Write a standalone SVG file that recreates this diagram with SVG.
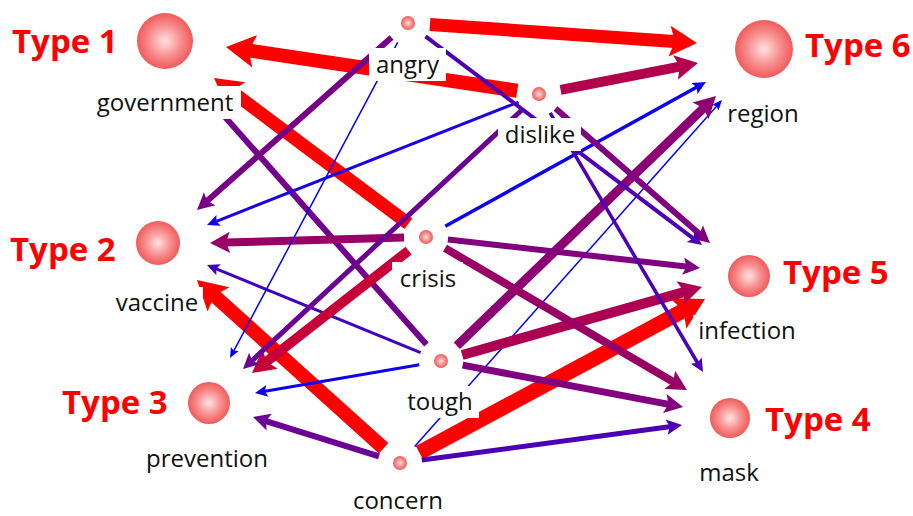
<svg xmlns="http://www.w3.org/2000/svg" xmlns:xlink="http://www.w3.org/1999/xlink" width="913" height="516" viewBox="0 0 913 516">
<style>
.e line{stroke:currentColor;fill:none}
.lbl{font-family:"Open Sans","DejaVu Sans",sans-serif;font-size:24px;fill:#111;text-anchor:middle}
.typ{font-family:"Open Sans","Liberation Sans",sans-serif;font-size:33px;font-weight:bold;fill:#ff0000}
.box{fill:#fff}
.ball{fill:url(#g)}
</style>
<defs>
<radialGradient id="g" cx="50%" cy="50%" r="50%">
<stop offset="0" stop-color="#ffe2e2"/>
<stop offset="0.55" stop-color="#f99090"/>
<stop offset="1" stop-color="#f05a5a"/>
</radialGradient>
<path id="h15" fill="currentColor" d="M0,0 L-30.5,-17.25 L-24.4,0 L-30.5,17.25Z"/>
<path id="h14" fill="currentColor" d="M0,0 L-29,-16.3 L-23.2,0 L-29,16.3Z"/>
<path id="h13" fill="currentColor" d="M0,0 L-27.5,-15.35 L-22,0 L-27.5,15.35Z"/>
<path id="h10" fill="currentColor" d="M0,0 L-23,-12.5 L-18.4,0 L-23,12.5Z"/>
<path id="h9" fill="currentColor" d="M0,0 L-21.5,-11.55 L-17.2,0 L-21.5,11.55Z"/>
<path id="h8" fill="currentColor" d="M0,0 L-20,-10.6 L-16,0 L-20,10.6Z"/>
<path id="h7" fill="currentColor" d="M0,0 L-18.5,-9.65 L-14.8,0 L-18.5,9.65Z"/>
<path id="h6" fill="currentColor" d="M0,0 L-17,-8.7 L-13.6,0 L-17,8.7Z"/>
<path id="h5" fill="currentColor" d="M0,0 L-15.5,-7.75 L-12.4,0 L-15.5,7.75Z"/>
<path id="h4" fill="currentColor" d="M0,0 L-14,-6.8 L-11.2,0 L-14,6.8Z"/>
<path id="h35" fill="currentColor" d="M0,0 L-13.25,-6.3 L-10.6,0 L-13.25,6.3Z"/>
<path id="h3" fill="currentColor" d="M0,0 L-12.5,-5.85 L-10,0 L-12.5,5.85Z"/>
<path id="hT" fill="currentColor" d="M0,0 L-10.25,-4.4 L-8.2,0 L-10.25,4.4Z"/>
</defs>
<rect width="913" height="516" fill="#fff"/>
<g id="connectors">
<!-- concern -->
<g class="e" color="#ff0000" transform="translate(197,280) rotate(-137.97)"><line x1="-251.3" y1="0" x2="-20.3" y2="0" stroke-width="14"/><use href="#h14"/></g>
<g class="e" color="#6b0094" transform="translate(253,417) rotate(-162.62)"><line x1="-132" y1="0" x2="-11.9" y2="0" stroke-width="6"/><use href="#h6"/></g>
<g class="e" color="#ff0000" transform="translate(705,299) rotate(-28.27)"><line x1="-324.3" y1="0" x2="-21.4" y2="0" stroke-width="15"/><use href="#h15"/></g>
<g class="e" color="#4d00b3" transform="translate(682,425) rotate(-7.67)"><line x1="-262.5" y1="0" x2="-10.9" y2="0" stroke-width="5"/><use href="#h5"/></g>
<g class="e" color="#0000ff" transform="translate(722,100) rotate(-48.43)"><line x1="-463.2" y1="0" x2="-7.2" y2="0" stroke-width="1.5"/><use href="#hT"/></g>
<!-- tough -->
<g class="e" color="#73008c" transform="translate(203,92) rotate(-131.5)"><line x1="-337.2" y1="0" x2="-11.9" y2="0" stroke-width="6"/><use href="#h6"/></g>
<g class="e" color="#4000bf" transform="translate(207,265) rotate(-157.69)"><line x1="-230.9" y1="0" x2="-8.8" y2="0" stroke-width="3"/><use href="#h3"/></g>
<g class="e" color="#0d00f2" transform="translate(255,393) rotate(170.24)"><line x1="-166.7" y1="0" x2="-8.8" y2="0" stroke-width="3"/><use href="#h3"/></g>
<g class="e" color="#8c0073" transform="translate(716,96) rotate(-43.94)"><line x1="-359.9" y1="0" x2="-15" y2="0" stroke-width="9"/><use href="#h9"/></g>
<g class="e" color="#ad0052" transform="translate(702,287) rotate(-15.83)"><line x1="-249.3" y1="0" x2="-16.1" y2="0" stroke-width="10"/><use href="#h10"/></g>
<g class="e" color="#800080" transform="translate(683,407) rotate(10.76)"><line x1="-224.3" y1="0" x2="-13" y2="0" stroke-width="7"/><use href="#h7"/></g>
<!-- crisis -->
<g class="e" color="#ff0000" transform="translate(214,78) rotate(-143.13)"><line x1="-243" y1="0" x2="-19.3" y2="0" stroke-width="13"/><use href="#h13"/></g>
<g class="e" color="#990066" transform="translate(210,243) rotate(178.41)"><line x1="-194.1" y1="0" x2="-14" y2="0" stroke-width="8"/><use href="#h8"/></g>
<g class="e" color="#c70038" transform="translate(252,373) rotate(141.99)"><line x1="-198.8" y1="0" x2="-16.1" y2="0" stroke-width="10"/><use href="#h10"/></g>
<g class="e" color="#0d00f2" transform="translate(706,82) rotate(-28.96)"><line x1="-298" y1="0" x2="-9.3" y2="0" stroke-width="3.5"/><use href="#h35"/></g>
<g class="e" color="#800080" transform="translate(700,268) rotate(6.45)"><line x1="-253.7" y1="0" x2="-11.9" y2="0" stroke-width="6"/><use href="#h6"/></g>
<g class="e" color="#990066" transform="translate(687,390) rotate(30.38)"><line x1="-280.5" y1="0" x2="-14" y2="0" stroke-width="8"/><use href="#h8"/></g>
<!-- dislike -->
<g class="e" color="#ff0000" transform="translate(226,47) rotate(-171.46)"><line x1="-294.5" y1="0" x2="-20.3" y2="0" stroke-width="14"/><use href="#h14"/></g>
<g class="e" color="#b3004d" transform="translate(698,63) rotate(-11.03)"><line x1="-140" y1="0" x2="-16.1" y2="0" stroke-width="10"/><use href="#h10"/></g>
<g class="e" color="#1a00e6" transform="translate(207,225) rotate(158.47)"><line x1="-334.9" y1="0" x2="-8.8" y2="0" stroke-width="3"/><use href="#h3"/></g>
<g class="e" color="#6b0094" transform="translate(243,369) rotate(137.11)"><line x1="-382" y1="0" x2="-10.9" y2="0" stroke-width="5"/><use href="#h5"/></g>
<g class="e" color="#800080" transform="translate(710,243) rotate(41.07)"><line x1="-204.8" y1="0" x2="-11.9" y2="0" stroke-width="6"/><use href="#h6"/></g>
<g class="e" color="#4d00b3" transform="translate(703,372) rotate(59.46)"><line x1="-300.8" y1="0" x2="-9.3" y2="0" stroke-width="3.5"/><use href="#h35"/></g>
<!-- angry -->
<g class="e" color="#ff0000" transform="translate(697,43) rotate(3.96)"><line x1="-267.7" y1="0" x2="-19.3" y2="0" stroke-width="13"/><use href="#h13"/></g>
<g class="e" color="#780087" transform="translate(197,210) rotate(138.45)"><line x1="-259.9" y1="0" x2="-11.9" y2="0" stroke-width="6"/><use href="#h6"/></g>
<g class="e" color="#0000ff" transform="translate(230,358) rotate(117.98)"><line x1="-357.4" y1="0" x2="-7.2" y2="0" stroke-width="1.5"/><use href="#hT"/></g>
<g class="e" color="#4d00b3" transform="translate(702,245) rotate(37.05)"><line x1="-346.4" y1="0" x2="-9.8" y2="0" stroke-width="4"/><use href="#h4"/></g>
</g>
<g id="type1">
<circle class="ball" cx="165" cy="41" r="28"/>
<text class="typ" x="12" y="53">Type 1</text>
<rect class="box" x="89" y="86" width="152" height="33"/>
<text class="lbl" x="165" y="111">government</text>
</g>
<g id="type2">
<circle class="ball" cx="158" cy="243" r="22"/>
<text class="typ" x="10" y="261">Type 2</text>
<rect class="box" x="110" y="287" width="93" height="32"/>
<text class="lbl" x="157" y="311">vaccine</text>
</g>
<g id="type3">
<circle class="ball" cx="209" cy="403" r="21"/>
<text class="typ" x="62" y="414">Type 3</text>
<rect class="box" x="142" y="443" width="131" height="32"/>
<text class="lbl" x="207" y="467">prevention</text>
</g>
<g id="type4">
<circle class="ball" cx="730" cy="418" r="20"/>
<text class="typ" x="765" y="431">Type 4</text>
<rect class="box" x="693" y="457" width="72" height="32"/>
<text class="lbl" x="729" y="481">mask</text>
</g>
<g id="type5">
<circle class="ball" cx="749" cy="276" r="21"/>
<text class="typ" x="783" y="284">Type 5</text>
<rect class="box" x="693" y="315" width="107" height="32"/>
<text class="lbl" x="747" y="339">infection</text>
</g>
<g id="type6">
<circle class="ball" cx="764" cy="49" r="29"/>
<text class="typ" x="805" y="57">Type 6</text>
<rect class="box" x="724" y="98" width="82" height="32"/>
<text class="lbl" x="763" y="122">region</text>
</g>
<g id="angry">
<circle class="ball" cx="408" cy="23" r="7"/>
<rect class="box" x="369" y="48" width="77" height="33"/>
<text class="lbl" x="407.5" y="73">angry</text>
</g>
<g id="dislike">
<circle class="ball" cx="539" cy="94" r="7"/>
<rect class="box" x="498" y="118" width="83" height="33"/>
<text class="lbl" x="540" y="143">dislike</text>
</g>
<g id="crisis">
<circle class="ball" cx="426" cy="237" r="7"/>
<rect class="box" x="392" y="262" width="71" height="33"/>
<text class="lbl" x="428" y="287">crisis</text>
</g>
<g id="tough">
<circle class="ball" cx="441" cy="361" r="7"/>
<rect class="box" x="403" y="386" width="76" height="32"/>
<text class="lbl" x="440" y="410">tough</text>
</g>
<g id="concern">
<circle class="ball" cx="400" cy="463" r="7"/>
<rect class="box" x="348" y="486" width="100" height="30"/>
<text class="lbl" x="398" y="509">concern</text>
</g>
</svg>
